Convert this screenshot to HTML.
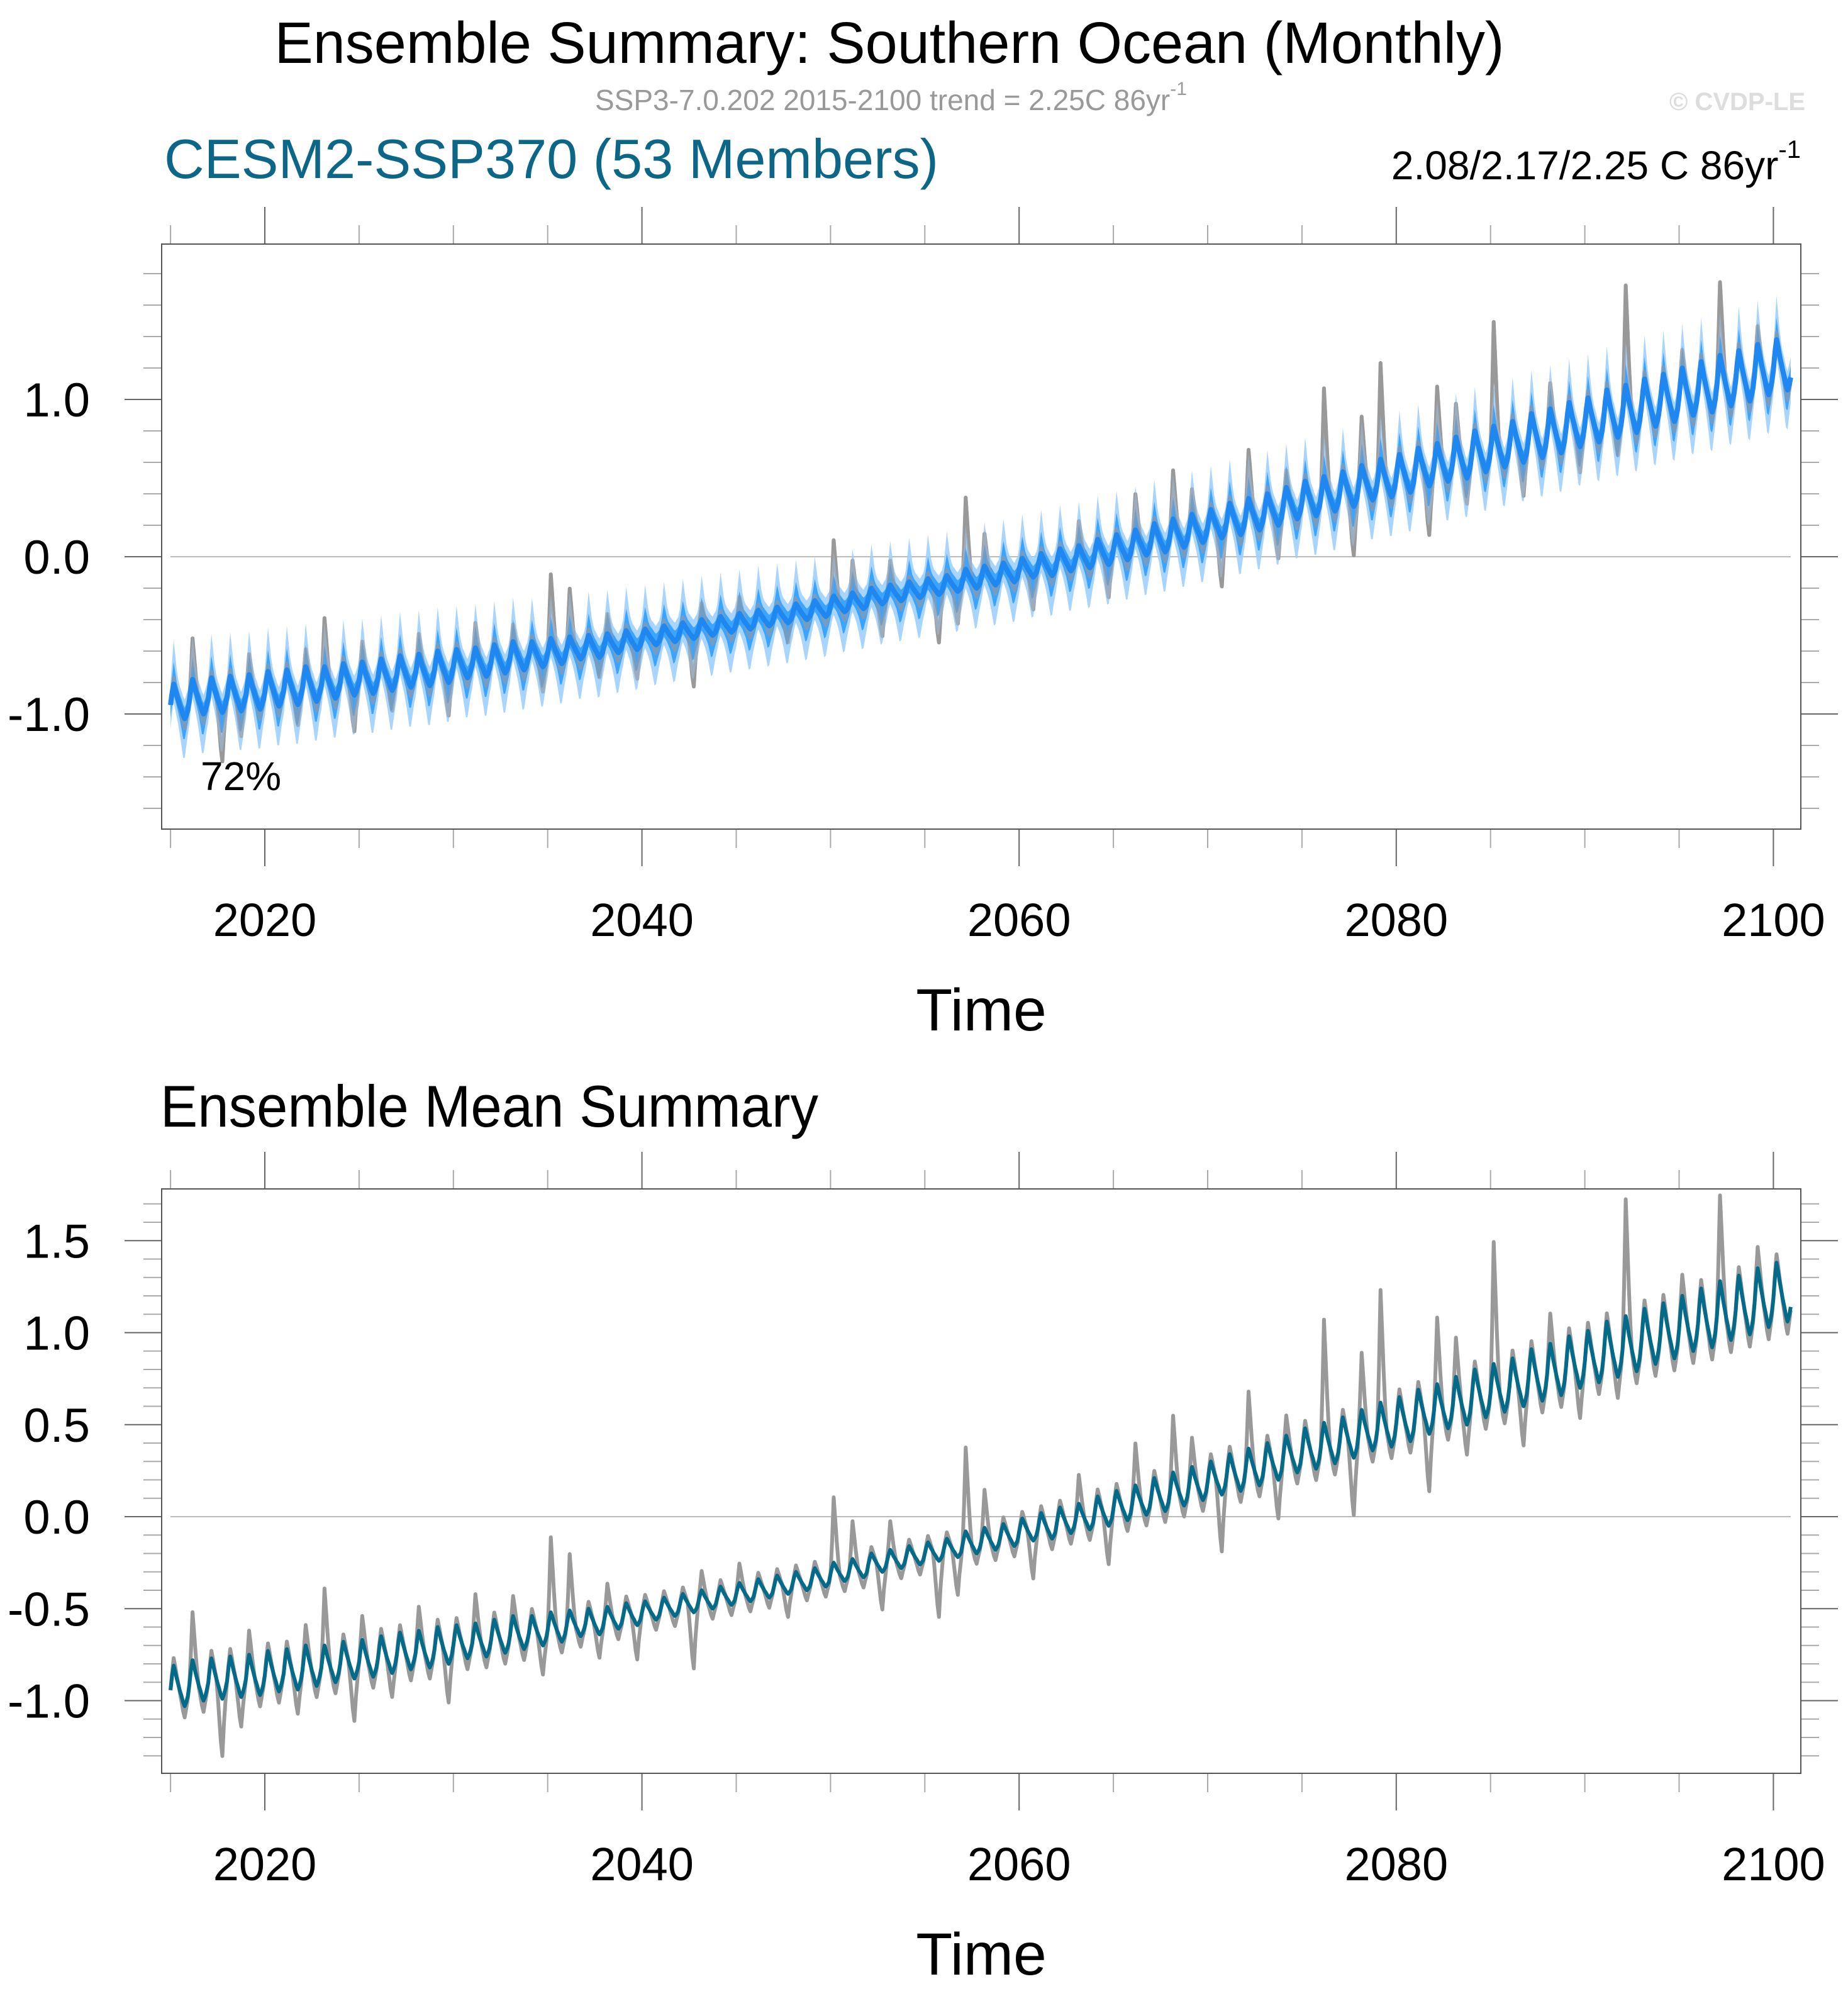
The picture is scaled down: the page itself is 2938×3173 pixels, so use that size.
<!DOCTYPE html>
<html><head><meta charset="utf-8">
<style>
html,body{margin:0;padding:0;background:#fff;}
svg{display:block;font-family:"Liberation Sans",Arial,sans-serif;}
</style></head>
<body>
<svg id="chart" width="2938" height="3173" viewBox="0 0 2938 3173" xmlns="http://www.w3.org/2000/svg">
<text x="1414" y="100" font-size="93" text-anchor="middle" fill="#000" textLength="1955" lengthAdjust="spacingAndGlyphs">Ensemble Summary: Southern Ocean (Monthly)</text>
<text x="946" y="175" font-size="46" fill="#999">SSP3-7.0.202 2015-2100 trend = 2.25C 86yr<tspan font-size="30" dy="-24">-1</tspan></text>
<text x="2870" y="175" font-size="40" font-weight="bold" fill="#ddd" text-anchor="end">© CVDP-LE</text>
<text x="261" y="283" font-size="88" fill="#0b6688" textLength="1231" lengthAdjust="spacingAndGlyphs">CESM2-SSP370 (53 Members)</text>
<text x="2863" y="285" font-size="64" fill="#000" text-anchor="end">2.08/2.17/2.25 C 86yr<tspan font-size="40" dy="-34">-1</tspan></text>
<text x="255" y="1791" font-size="94" fill="#000" textLength="1046" lengthAdjust="spacingAndGlyphs">Ensemble Mean Summary</text>
<defs>
<clipPath id="clip1"><rect x="257" y="388" width="2606" height="930"/></clipPath>
<clipPath id="clip2"><rect x="257" y="1890" width="2606" height="929"/></clipPath>
</defs>
<g id="p1"></g>
<g id="p2"></g>
</svg>
<script>
// ---- data (years 2015..2100) ----
const years = [];
for (let y = 2015; y <= 2100; y++) years.push(y);
const ensMean = [-0.92,-0.89,-0.88,-0.87,-0.86,-0.84,-0.83,-0.81,-0.80,-0.78,-0.77,-0.75,-0.73,-0.72,-0.70,-0.68,-0.67,-0.65,-0.63,-0.62,-0.60,-0.58,-0.57,-0.55,-0.53,-0.51,-0.49,-0.47,-0.45,-0.43,-0.41,-0.39,-0.37,-0.35,-0.33,-0.30,-0.28,-0.25,-0.23,-0.21,-0.19,-0.17,-0.14,-0.12,-0.10,-0.07,-0.05,-0.02,0.00,0.03,0.06,0.09,0.12,0.15,0.18,0.21,0.24,0.27,0.30,0.34,0.37,0.40,0.43,0.47,0.50,0.53,0.57,0.60,0.63,0.67,0.70,0.73,0.77,0.80,0.84,0.87,0.91,0.94,0.98,1.01,1.05,1.08,1.12,1.15,1.19,1.22];
const seasonAmp = [0.11,0.11,0.11,0.11,0.11,0.11,0.11,0.11,0.10,0.10,0.10,0.10,0.10,0.10,0.10,0.09,0.09,0.09,0.09,0.08,0.08,0.07,0.07,0.06,0.06,0.05,0.05,0.05,0.05,0.05,0.05,0.05,0.05,0.05,0.05,0.05,0.05,0.05,0.05,0.05,0.05,0.05,0.06,0.06,0.06,0.06,0.07,0.07,0.07,0.08,0.08,0.08,0.09,0.09,0.09,0.09,0.10,0.10,0.10,0.10,0.11,0.11,0.11,0.11,0.12,0.12,0.12,0.12,0.13,0.13,0.13,0.13,0.14,0.14,0.14,0.14,0.15,0.15,0.15,0.15,0.15,0.16,0.16,0.16,0.16,0.16];
const seasonShape = [-0.2,0.5,1.0,0.7,0.35,0.05,-0.25,-0.5,-0.8,-1.0,-0.8,-0.5];
const obsPeak = [0.03,0.25,0.03,0.03,0.12,0.03,0.03,0.10,0.30,0.03,0.12,0.03,0.03,0.12,0.03,0.03,0.15,0.03,0.10,0.03,0.40,0.30,0.03,0.12,0.03,0.03,0.03,0.03,0.10,0.03,0.10,0.03,0.03,0.03,0.03,0.35,0.20,0.03,0.15,0.03,0.03,0.03,0.45,0.20,0.03,0.03,0.03,0.03,0.15,0.03,0.03,0.22,0.03,0.30,0.15,0.03,0.03,0.30,0.03,0.10,0.03,0.55,0.03,0.30,0.60,0.03,0.03,0.35,0.20,0.03,0.65,0.03,0.03,0.15,0.03,0.03,0.03,0.62,0.03,0.03,0.10,0.03,0.45,0.03,0.10,0.03];
const obsDip = [0.05,0.05,0.30,0.15,0.05,0.05,0.12,0.05,0.05,0.22,0.05,0.12,0.05,0.05,0.20,0.05,0.05,0.05,0.05,0.15,0.05,0.05,0.12,0.05,0.18,0.05,0.05,0.30,0.05,0.05,0.05,0.05,0.12,0.05,0.05,0.05,0.05,0.20,0.05,0.05,0.30,0.20,0.05,0.05,0.05,0.20,0.05,0.05,0.05,0.20,0.05,0.05,0.05,0.05,0.05,0.30,0.05,0.05,0.20,0.05,0.05,0.05,0.30,0.05,0.05,0.05,0.30,0.05,0.15,0.05,0.05,0.20,0.05,0.05,0.15,0.05,0.10,0.05,0.05,0.05,0.05,0.05,0.05,0.05,0.05,0.05];
const peakWeights = [0,0.4,1.0,0.7,0.4,0.15,0,0,0,0,0,0];
const dipWeights = [0,0,0,0,0,0,0.2,0.5,0.8,1.0,0.5,0.2];
const outerUp = [0.14,0.20,0.28,0.22,0.16,0.13,0.12,0.12,0.12,0.12,0.13,0.13];
const outerLo = [0.15,0.13,0.12,0.13,0.14,0.16,0.19,0.23,0.27,0.25,0.20,0.16];
const innerUp = [0.07,0.10,0.14,0.11,0.08,0.07,0.07,0.07,0.07,0.07,0.07,0.07];
const innerLo = [0.08,0.07,0.07,0.07,0.07,0.08,0.09,0.12,0.15,0.13,0.10,0.08];
const y1Ticks = [-1.0, 0.0, 1.0];
const y2Ticks = [-1.0, -0.5, 0.0, 0.5, 1.0, 1.5];
const xTicks = [2020, 2040, 2060, 2080, 2100];

// ---- build monthly series ----
const t = [], ens = [], obs = [], oU = [], oL = [], iU = [], iL = [];
years.forEach((yr, i) => {
  for (let m = 0; m < 12; m++) {
    const s = seasonShape[m] * seasonAmp[i];
    const e = ensMean[i] + s;
    t.push(yr + m / 12);
    ens.push(e);
    let o = ensMean[i] + s * 1.1 + obsPeak[i] * peakWeights[m] - obsDip[i] * dipWeights[m];
    obs.push(o);
    oU.push(e + outerUp[m]); oL.push(e - outerLo[m]);
    iU.push(e + innerUp[m]); iL.push(e - innerLo[m]);
  }
});

// ---- axes ----
const X = yr => 421 + (yr - 2020) * 29.98;
const Y1 = v => 885 - 250 * v;
const Y2 = v => 2411 - 292.5 * v;
const NS = 'http://www.w3.org/2000/svg';
function mk(tag, attrs, parent) {
  const el = document.createElementNS(NS, tag);
  for (const k in attrs) el.setAttribute(k, attrs[k]);
  parent.appendChild(el);
  return el;
}
function linePath(vals, Y) { return vals.map((v, i) => (i ? 'L' : 'M') + X(t[i]).toFixed(1) + ' ' + Y(v).toFixed(1)).join(''); }
function bandPath(up, lo, Y) {
  let d = up.map((v, i) => (i ? 'L' : 'M') + X(t[i]).toFixed(1) + ' ' + Y(v).toFixed(1)).join('');
  for (let i = lo.length - 1; i >= 0; i--) d += 'L' + X(t[i]).toFixed(1) + ' ' + Y(lo[i]).toFixed(1);
  return d + 'Z';
}

function frame(g, top, bot, Y, vmin, vmax, minorStep, ticks) {
  for (let v = Math.ceil(vmin / minorStep) * minorStep; v <= vmax + 1e-9; v += minorStep) {
    const y = Y(v);
    const major = ticks.some(tk => Math.abs(tk - v) < 1e-6);
    const len = major ? 59 : 29;
    const l1 = mk('line', {x1: 257 - len, x2: 257, y1: y, y2: y, stroke: major ? '#666' : '#aaa', 'stroke-width': 2}, g);
    
    
    const l2 = mk('line', {x1: 2863, x2: 2863 + len, y1: y, y2: y, stroke: major ? '#666' : '#aaa', 'stroke-width': 2}, g);
    
    
  }
  ticks.forEach(v => {
    const tx = mk('text', {x: 143, y: Y(v) + 27, 'font-size': 76, 'text-anchor': 'end', fill: '#000'}, g);
    tx.textContent = v.toFixed(1);
    
    
  });
  for (let yr = 2015; yr <= 2100; yr += 5) {
    const major = xTicks.includes(yr);
    const len = major ? 59 : 30;
    const a = mk('line', {x1: X(yr), x2: X(yr), y1: top - len, y2: top, stroke: major ? '#666' : '#aaa', 'stroke-width': 2}, g);
    
    
    const b = mk('line', {x1: X(yr), x2: X(yr), y1: bot, y2: bot + len, stroke: major ? '#666' : '#aaa', 'stroke-width': 2}, g);
    
    
  }
  xTicks.forEach(yr => {
    const tx = mk('text', {x: X(yr), y: bot + 170, 'font-size': 74, 'text-anchor': 'middle', fill: '#000'}, g);
    tx.textContent = yr;
    
    
  });
  const ttl = mk('text', {x: 1560, y: bot + 320, 'font-size': 95, 'text-anchor': 'middle', fill: '#000'}, g);
  ttl.textContent = 'Time';
  
  
  const zl = mk('line', {x1: X(t[0]), x2: X(t[t.length - 1]), y1: Y(0), y2: Y(0), stroke: '#bbb', 'stroke-width': 2}, g);
  
  
}

// ---- panel 1 ----
const g1 = document.getElementById('p1');
frame(g1, 388, 1318, Y1, -1.73, 1.99, 0.2, y1Ticks);
const c1 = mk('g', {'clip-path': 'url(#clip1)'}, g1);
const ob1 = mk('path', {d: linePath(obs, Y1), fill: 'none', stroke: '#999', 'stroke-width': 6, 'stroke-linejoin': 'round'}, c1);


const bo = mk('path', {d: bandPath(oU, oL, Y1), fill: '#9fd0ff', 'fill-opacity': 0.9}, c1);


const bi = mk('path', {d: bandPath(iU, iL, Y1), fill: '#3ba4ff'}, c1);


const ob1b = mk('path', {d: linePath(obs, Y1), fill: 'none', stroke: '#999', 'stroke-width': 6, 'stroke-opacity': 0.6, 'stroke-linejoin': 'round'}, c1);


const em1 = mk('path', {d: linePath(ens, Y1), fill: 'none', stroke: '#1e88f0', 'stroke-width': 8, 'stroke-linejoin': 'round'}, c1);


const fr1 = mk('rect', {x: 257, y: 388, width: 2606, height: 930, fill: 'none', stroke: '#555', 'stroke-width': 2}, g1);


const pct = mk('text', {x: 319, y: 1256, 'font-size': 64, fill: '#000'}, g1);
pct.textContent = '72%';



// ---- panel 2 ----
const g2 = document.getElementById('p2');
frame(g2, 1890, 2819, Y2, -1.39, 1.78, 0.1, y2Ticks);
const c2 = mk('g', {'clip-path': 'url(#clip2)'}, g2);
const ob2 = mk('path', {d: linePath(obs, Y2), fill: 'none', stroke: '#999', 'stroke-width': 6, 'stroke-linejoin': 'round'}, c2);


const em2 = mk('path', {d: linePath(ens, Y2), fill: 'none', stroke: '#046a8a', 'stroke-width': 6, 'stroke-linejoin': 'round'}, c2);


const fr2 = mk('rect', {x: 257, y: 1890, width: 2606, height: 929, fill: 'none', stroke: '#555', 'stroke-width': 2}, g2);


</script>
</body></html>
